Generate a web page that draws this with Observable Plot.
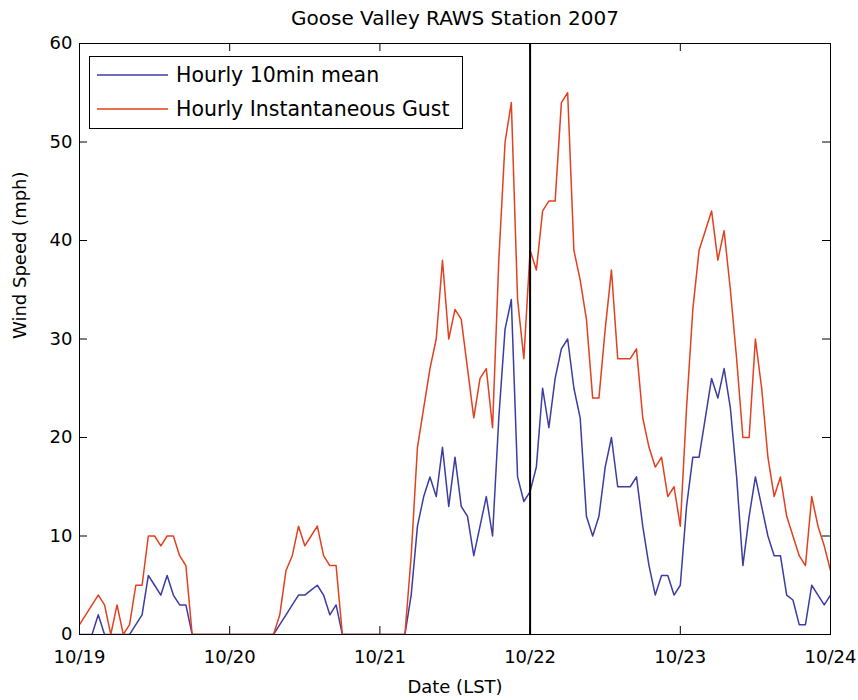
<!DOCTYPE html>
<html><head><meta charset="utf-8">
<script src="https://cdn.jsdelivr.net/npm/d3@7"></script>
<script src="https://cdn.jsdelivr.net/npm/@observablehq/plot@0.6"></script>
<style>
body{margin:0;background:#fff;}
#chart svg{display:block;}
</style></head><body><div id="chart"></div>
<script>
const title = "Goose Valley RAWS Station 2007";
const xLabel = "Date (LST)";
const yLabel = "Wind Speed (mph)";
const seriesNames = ["Hourly 10min mean", "Hourly Instantaneous Gust"];
const seriesColors = ["#3c3ca2", "#e2401e"];
const dayLabels = ["10/19", "10/20", "10/21", "10/22", "10/23", "10/24"];
const dayTickHours = [0, 24, 48, 72, 96, 120];
const yTickValues = [0, 10, 20, 30, 40, 50, 60];
const markerHour = 72;

// hourly values, starting 10/19 00 LST
const meanSpeed = [
  0,0,0,2,0,0,0,0,0,1,2,6,5,4,6,4,3,3,0,
  0,0,0,0,0,0,0,0,0,0,0,0,0,
  1,2,3,4,4,4.5,5,4,2,3,0,
  0,0,0,0,0,0,0,0,0,0,
  4,11,14,16,14,19,13,18,13,12,8,11,14,10,22,31,34,16,13.5,14.5,
  17,25,21,26,29,30,25,22,12,10,12,17,20,15,15,15,16,11,7,4,6,6,4,5,
  13,18,18,22,26,24,27,23,16,7,12,16,13,10,8,8,4,3.5,1,1,5,4,3,4
];
const gustSpeed = [
  1,2,3,4,3,0,3,0,1,5,5,10,10,9,10,10,8,7,0,
  0,0,0,0,0,0,0,0,0,0,0,0,0,
  2,6.5,8,11,9,10,11,8,7,7,0,
  0,0,0,0,0,0,0,0,0,0,
  8,19,23,27,30,38,30,33,32,27,22,26,27,21,38,50,54,34,28,39,
  37,43,44,44,54,55,39,36,32,24,24,31,37,28,28,28,29,22,19,17,18,14,15,11,
  23,33,39,41,43,38,41,35,28,20,20,30,25,18,14,16,12,10,8,7,14,11,9,6.5
];

const W = 858, H = 700, mL = 79, mR = 28, mT = 43, mB = 66;
const plotW = W - mL - mR, plotH = H - mT - mB, tickLen = 8;

const rows = [];
[meanSpeed, gustSpeed].forEach((arr, s) =>
  arr.forEach((v, i) => rows.push({hour: i, speed: v, series: seriesNames[s]})));

const chart = Plot.plot({
  width: W, height: H,
  marginLeft: mL, marginRight: mR, marginTop: mT, marginBottom: mB,
  style: {fontFamily: "DejaVu Sans", fontSize: "18px", color: "#000", background: "#fff"},
  x: {domain: [0, 120]},
  y: {domain: [0, 60]},
  color: {domain: seriesNames, range: seriesColors},
  marks: [
    Plot.line(rows, {x: "hour", y: "speed", stroke: "series", strokeWidth: 1.5, clip: true}),
    Plot.ruleX([markerHour], {stroke: "#000", strokeWidth: 2}),
    Plot.tickY(yTickValues, {y: d => d, insetRight: plotW - tickLen, stroke: "#000"}),
    Plot.tickY(yTickValues, {y: d => d, insetLeft: plotW - tickLen, stroke: "#000"}),
    Plot.tickX(dayTickHours, {x: d => d, insetTop: plotH - tickLen, stroke: "#000"}),
    Plot.tickX(dayTickHours, {x: d => d, insetBottom: plotH - tickLen, stroke: "#000"}),
    Plot.axisY({ticks: yTickValues, tickSize: 0, tickPadding: 7, label: null}),
    Plot.axisX({ticks: dayTickHours, tickSize: 0, tickPadding: 16, label: null,
      tickFormat: d => dayLabels[dayTickHours.indexOf(d)]}),
    Plot.frame({stroke: "#000"}),
    Plot.text([title], {frameAnchor: "top", lineAnchor: "middle", dy: -25, fontSize: 20}),
    Plot.text([xLabel], {frameAnchor: "bottom", lineAnchor: "middle", dy: 53}),
    Plot.text([yLabel], {frameAnchor: "left", dx: -59, rotate: -90})
  ]
});

const svg = d3.select(chart);
const lg = svg.append("g").attr("font-family", "DejaVu Sans").attr("font-size", 20.5)
  .attr("text-anchor", "start");
lg.append("rect").attr("x", 89.5).attr("y", 56.5).attr("width", 373).attr("height", 72)
  .attr("fill", "#fff").attr("stroke", "#000");
seriesNames.forEach((name, i) => {
  const yy = 75 + i * 34;
  lg.append("line").attr("x1", 97).attr("x2", 168).attr("y1", yy).attr("y2", yy)
    .attr("stroke", seriesColors[i]).attr("stroke-width", 1.5);
  lg.append("text").attr("x", 176).attr("y", yy).attr("dy", "0.35em")
    .attr("text-anchor", "start").attr("fill", "#000").text(name);
});
document.getElementById("chart").append(chart);
</script></body></html>
